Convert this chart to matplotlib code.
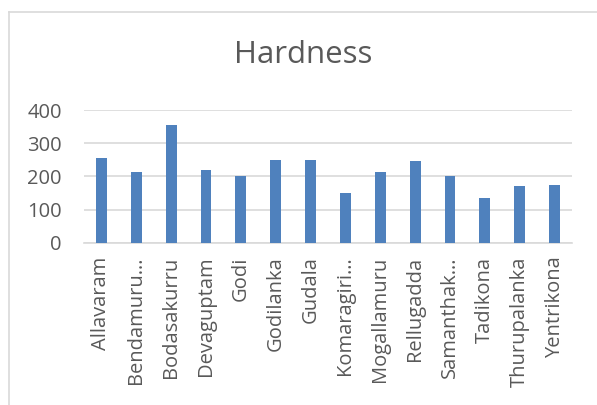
import matplotlib
matplotlib.use("Agg")
import matplotlib.pyplot as plt
from matplotlib.lines import Line2D

villages = ["Allavaram", "Bendamuru…", "Bodasakurru", "Devaguptam", "Godi",
            "Godilanka", "Gudala", "Komaragiri…", "Mogallamuru", "Rellugadda",
            "Samanthak…", "Tadikona", "Thurupalanka", "Yentrikona"]
hardness = [254, 212, 355, 220, 200, 250, 250, 150, 212, 245, 200, 134, 170, 175]
y_ticks = [0, 100, 200, 300, 400]

plt.rcParams['font.family'] = ['Open Sans', 'DejaVu Sans']
grey_text = '#595959'
grid_col = '#d9d9d9'

fig = plt.figure(figsize=(5.97, 4.05), dpi=100)
ax = fig.add_axes([84 / 597, 1 - 242.7 / 405, 488 / 597, 132.7 / 405])

x = range(len(villages))
ax.bar(x, hardness, width=0.313, color='#4f81bd', zorder=3)

ax.set_xlim(-0.5, len(villages) - 0.5)
ax.set_ylim(0, 400)
ax.set_yticks(y_ticks)
ax.set_xticks(list(x))
ax.set_xticklabels(villages, rotation=90, va='top', ha='center')
ax.tick_params(axis='both', length=0, labelsize=14.5, colors=grey_text)
ax.tick_params(axis='y', pad=16)
ax.tick_params(axis='x', pad=10)
ax.yaxis.grid(True, color=grid_col, linewidth=1.2, zorder=0)
for s in ['top', 'right', 'left']:
    ax.spines[s].set_visible(False)
ax.spines['bottom'].set_color(grid_col)
ax.spines['bottom'].set_linewidth(1.2)

fig.text(303 / 597, 1 - 55 / 405, "Hardness", ha='center', va='center',
         fontsize=22.5, color=grey_text)

# chart area border (only top and left show in the crop)
fig.add_artist(Line2D([8.5 / 597, 1], [1 - 11.5 / 405, 1 - 11.5 / 405],
                      transform=fig.transFigure, color=grid_col, lw=1.2))
fig.add_artist(Line2D([8.5 / 597, 8.5 / 597], [0, 1 - 11.5 / 405],
                      transform=fig.transFigure, color=grid_col, lw=1.2))

fig.savefig("out.png", dpi=100)
